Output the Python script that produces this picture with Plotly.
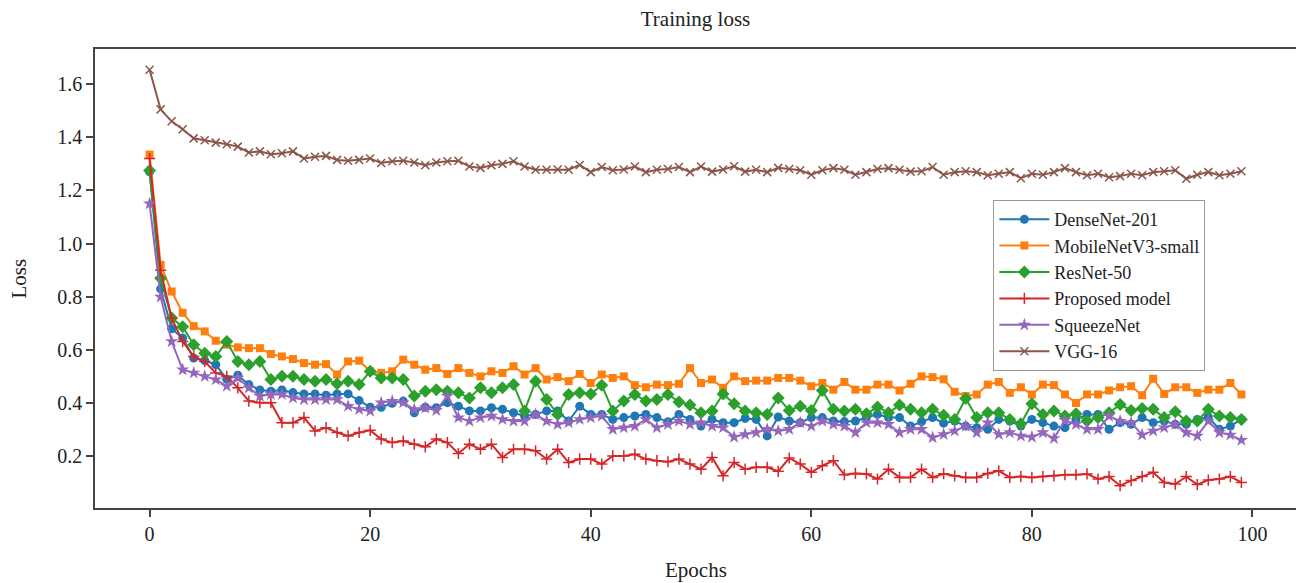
import plotly.graph_objects as go

epochs = list(range(100))

densenet = [1.27, 0.83, 0.68, 0.645, 0.57, 0.56, 0.545, 0.49, 0.505, 0.47,
            0.45, 0.445, 0.45, 0.44, 0.435, 0.435, 0.43, 0.435, 0.435, 0.41,
            0.385, 0.385, 0.40, 0.408, 0.364, 0.385, 0.383, 0.402, 0.389, 0.371,
            0.371, 0.383, 0.377, 0.364, 0.352, 0.358, 0.371, 0.371, 0.333, 0.389,
            0.358, 0.358, 0.339, 0.346, 0.352, 0.358, 0.346, 0.33, 0.358, 0.339,
            0.314, 0.339, 0.327, 0.327, 0.343, 0.339, 0.277, 0.348, 0.333, 0.327,
            0.346, 0.346, 0.333, 0.331, 0.333, 0.346, 0.358, 0.346, 0.346, 0.314,
            0.331, 0.346, 0.325, 0.333, 0.314, 0.308, 0.302, 0.339, 0.333, 0.314,
            0.339, 0.327, 0.314, 0.308, 0.339, 0.358, 0.358, 0.302, 0.327, 0.321,
            0.346, 0.327, 0.333, 0.321, 0.321, 0.339, 0.348, 0.302, 0.314, 0.339]

mobilenet = [1.335, 0.92, 0.82, 0.74, 0.69, 0.67, 0.635, 0.62, 0.61, 0.607,
             0.607, 0.585, 0.576, 0.566, 0.551, 0.545, 0.547, 0.508, 0.557, 0.56,
             0.52, 0.514, 0.52, 0.564, 0.545, 0.526, 0.532, 0.51, 0.532, 0.514,
             0.501, 0.52, 0.514, 0.539, 0.508, 0.532, 0.489, 0.498, 0.483, 0.51,
             0.476, 0.508, 0.495, 0.501, 0.468, 0.46, 0.47, 0.468, 0.473, 0.532,
             0.476, 0.489, 0.458, 0.501, 0.483, 0.485, 0.485, 0.495, 0.495, 0.485,
             0.464, 0.476, 0.451, 0.48, 0.451, 0.451, 0.47, 0.47, 0.448, 0.473,
             0.501, 0.498, 0.49, 0.443, 0.427, 0.433, 0.47, 0.48, 0.439, 0.46,
             0.433, 0.47, 0.468, 0.433, 0.401, 0.433, 0.433, 0.448, 0.46, 0.464,
             0.43, 0.492, 0.435, 0.46, 0.46, 0.439, 0.451, 0.451, 0.476, 0.433]

resnet = [1.275, 0.87, 0.72, 0.688, 0.62, 0.588, 0.576, 0.632, 0.557, 0.545,
          0.557, 0.489, 0.501, 0.501, 0.489, 0.483, 0.489, 0.473, 0.483, 0.47,
          0.52, 0.495, 0.495, 0.489, 0.427, 0.445, 0.451, 0.445, 0.439, 0.42,
          0.458, 0.439, 0.458, 0.47, 0.371, 0.483, 0.414, 0.358, 0.433, 0.439,
          0.435, 0.468, 0.371, 0.408, 0.433, 0.408, 0.414, 0.433, 0.405, 0.393,
          0.364, 0.371, 0.435, 0.398, 0.371, 0.364, 0.358, 0.42, 0.373, 0.389,
          0.373, 0.448, 0.377, 0.371, 0.377, 0.36, 0.386, 0.364, 0.393, 0.377,
          0.364, 0.377, 0.355, 0.339, 0.418, 0.346, 0.364, 0.364, 0.339, 0.323,
          0.398, 0.358, 0.371, 0.352, 0.36, 0.333, 0.346, 0.364, 0.395, 0.373,
          0.38, 0.377, 0.346, 0.368, 0.333, 0.333, 0.377, 0.352, 0.346, 0.339]

proposed = [1.32, 0.9, 0.72, 0.632, 0.576, 0.557, 0.514, 0.501, 0.458, 0.408,
            0.402, 0.402, 0.327, 0.327, 0.346, 0.296, 0.308, 0.29, 0.277, 0.29,
            0.298, 0.265, 0.252, 0.258, 0.246, 0.236, 0.265, 0.252, 0.211, 0.246,
            0.227, 0.246, 0.196, 0.227, 0.227, 0.221, 0.19, 0.227, 0.177, 0.19,
            0.19, 0.171, 0.202, 0.202, 0.208, 0.19, 0.184, 0.18, 0.19, 0.171,
            0.152, 0.196, 0.127, 0.177, 0.152, 0.159, 0.159, 0.144, 0.194, 0.171,
            0.14, 0.165, 0.184, 0.131, 0.136, 0.134, 0.115, 0.152, 0.121, 0.121,
            0.152, 0.121, 0.135, 0.127, 0.121, 0.121, 0.136, 0.146, 0.121, 0.124,
            0.121, 0.124, 0.127, 0.131, 0.131, 0.134, 0.115, 0.124, 0.09, 0.109,
            0.124, 0.14, 0.102, 0.096, 0.124, 0.094, 0.111, 0.115, 0.124, 0.102]

squeezenet = [1.15, 0.80, 0.632, 0.526, 0.514, 0.501, 0.489, 0.464, 0.495, 0.458,
              0.427, 0.433, 0.433, 0.42, 0.414, 0.414, 0.414, 0.414, 0.389, 0.377,
              0.37, 0.402, 0.408, 0.402, 0.377, 0.383, 0.373, 0.427, 0.346, 0.333,
              0.346, 0.352, 0.339, 0.333, 0.333, 0.358, 0.333, 0.321, 0.327, 0.339,
              0.346, 0.352, 0.302, 0.308, 0.314, 0.339, 0.308, 0.321, 0.333, 0.321,
              0.327, 0.314, 0.308, 0.273, 0.283, 0.29, 0.302, 0.296, 0.302, 0.327,
              0.314, 0.333, 0.321, 0.314, 0.29, 0.327, 0.327, 0.321, 0.29, 0.302,
              0.302, 0.271, 0.283, 0.296, 0.314, 0.29, 0.327, 0.283, 0.29, 0.277,
              0.273, 0.29, 0.268, 0.336, 0.321, 0.302, 0.302, 0.352, 0.333, 0.327,
              0.281, 0.296, 0.308, 0.321, 0.29, 0.277, 0.333, 0.29, 0.281, 0.261]

vgg16 = [1.654, 1.505, 1.46, 1.43, 1.396, 1.389, 1.38, 1.374, 1.365, 1.343,
         1.347, 1.336, 1.34, 1.347, 1.32, 1.327, 1.33, 1.315, 1.312, 1.315,
         1.32, 1.303, 1.31, 1.312, 1.305, 1.295, 1.305, 1.31, 1.312, 1.29,
         1.285, 1.295, 1.30, 1.31, 1.29, 1.278, 1.278, 1.279, 1.278, 1.296,
         1.269, 1.288, 1.276, 1.279, 1.29, 1.269, 1.278, 1.281, 1.288, 1.269,
         1.29, 1.271, 1.279, 1.291, 1.271, 1.278, 1.269, 1.285, 1.281, 1.276,
         1.259, 1.276, 1.284, 1.278, 1.259, 1.269, 1.281, 1.284, 1.278, 1.271,
         1.272, 1.288, 1.259, 1.269, 1.272, 1.269, 1.257, 1.263, 1.269, 1.246,
         1.263, 1.259, 1.269, 1.284, 1.269, 1.257, 1.263, 1.25, 1.254, 1.263,
         1.257, 1.269, 1.272, 1.276, 1.244, 1.259, 1.269, 1.257, 1.263, 1.272]

series_names = ["DenseNet-201", "MobileNetV3-small", "ResNet-50",
                "Proposed model", "SqueezeNet", "VGG-16"]
series_values = [densenet, mobilenet, resnet, proposed, squeezenet, vgg16]
colors = ["#1f77b4", "#ff7f0e", "#2ca02c", "#d62728", "#9467bd", "#8c564b"]
symbols = ["circle", "square", "diamond", "cross-thin", "star", "x-thin"]
sizes = [9, 8, 10, 8, 10, 8]

FONT = "Liberation Serif, Times New Roman, serif"
TXT = "#222"

fig = go.Figure()
for name, vals, c, s, sz in zip(series_names, series_values, colors, symbols, sizes):
    thin = s.endswith("thin")
    fig.add_trace(go.Scatter(
        x=epochs, y=vals, name=name, mode="lines+markers",
        line=dict(color=c, width=2),
        marker=dict(symbol=s, size=sz, color=c,
                    line=dict(color=c, width=1.5 if thin else 0)),
    ))

axis_common = dict(
    showline=True, mirror=True, linecolor="#444", linewidth=1.5,
    ticks="outside", ticklen=7, tickwidth=1.5, tickcolor="#444",
    showgrid=False, zeroline=False, automargin=False,
    tickfont=dict(family=FONT, size=20, color=TXT),
)

# page body has an 8px default margin, so the figure is sized to fit the window
fig.update_layout(
    template="none",
    width=1296, height=575,
    paper_bgcolor="white", plot_bgcolor="white",
    margin=dict(l=87, r=8, t=41, b=75),
    title=dict(text="Training loss", x=0.5, xanchor="center",
               y=0.982, yanchor="middle", xref="paper",
               font=dict(family=FONT, size=21, color=TXT)),
    xaxis=dict(range=[-4.95, 103.95], tickvals=[0, 20, 40, 60, 80, 100],
               **axis_common),
    yaxis=dict(range=[0.006, 1.732], tickvals=[0.2, 0.4, 0.6, 0.8, 1.0, 1.2, 1.4, 1.6],
               tickformat=".1f", **axis_common),
    legend=dict(x=0.748, y=0.671, xanchor="left", yanchor="top",
                bgcolor="white", bordercolor="#999", borderwidth=1,
                font=dict(family=FONT, size=18, color=TXT),
                itemwidth=50, tracegroupgap=0),
    showlegend=True,
    annotations=[
        dict(text="Epochs", xref="paper", yref="paper", x=0.5, y=0,
             xanchor="center", yanchor="middle", yshift=-62, showarrow=False,
             font=dict(family=FONT, size=21, color=TXT)),
        dict(text="Loss", xref="paper", yref="paper", x=0, y=0.5,
             xanchor="center", yanchor="middle", xshift=-77, textangle=-90,
             showarrow=False, font=dict(family=FONT, size=21, color=TXT)),
    ],
)

fig.write_html("out.html")
